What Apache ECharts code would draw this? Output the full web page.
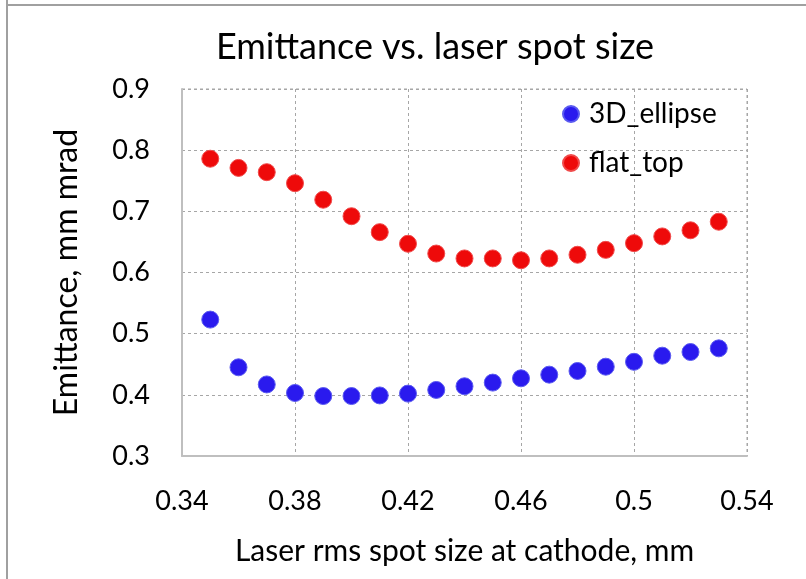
<!DOCTYPE html>
<html><head><meta charset="utf-8">
<script src="https://cdn.jsdelivr.net/npm/echarts@6/dist/echarts.min.js"></script>
<style>html,body{margin:0;padding:0;background:#fff}#c{width:806px;height:579px}</style>
</head><body><div id="c"></div>
<script>
const xValues = [0.35,0.36,0.37,0.38,0.39,0.40,0.41,0.42,0.43,0.44,0.45,0.46,0.47,0.48,0.49,0.50,0.51,0.52,0.53];
const ellipse3D = [0.523,0.445,0.417,0.403,0.398,0.398,0.399,0.402,0.408,0.414,0.420,0.427,0.433,0.439,0.446,0.454,0.464,0.470,0.476];
const flatTop = [0.786,0.771,0.764,0.746,0.719,0.692,0.666,0.647,0.631,0.623,0.623,0.620,0.623,0.629,0.637,0.648,0.659,0.669,0.683];
const seriesNames = ['3D_ellipse','flat_top'];
const FONT = 'Lato';
const chart = echarts.init(document.getElementById('c'));
const pair = (ys) => xValues.map((x,i)=>[x,ys[i]]);
chart.setOption({
  animation:false,
  textStyle:{fontFamily:FONT},
  title:{text:'Emittance vs. laser spot size',left:430,top:24,textAlign:'center',
    textStyle:{fontFamily:FONT,fontSize:36,fontWeight:'normal',color:'#000'}},
  legend:{orient:'vertical',left:557,top:95,itemGap:21,itemWidth:16,itemHeight:16,icon:'circle',
    textStyle:{fontFamily:FONT,fontSize:28,color:'#000',padding:[0,0,0,5]},data:seriesNames},
  grid:{left:182,right:59,top:89,bottom:123,containLabel:false},
  xAxis:{type:'value',min:0.34,max:0.54,interval:0.04,
    name:'Laser rms spot size at cathode, mm',nameLocation:'middle',nameGap:80,
    nameTextStyle:{fontFamily:FONT,fontSize:30,color:'#000'},
    axisLine:{show:true,lineStyle:{color:'#bfbfbf',width:2}},axisTick:{show:false},
    axisLabel:{fontFamily:FONT,fontSize:27,color:'#000',margin:32,formatter:v=>String(+v.toFixed(2))},
    splitLine:{show:true,lineStyle:{type:[3,3],color:'#a6a6a6',width:1}}},
  yAxis:{type:'value',min:0.3,max:0.9,interval:0.1,
    name:'Emittance, mm mrad',nameLocation:'middle',nameGap:99,
    nameTextStyle:{fontFamily:FONT,fontSize:32,color:'#000'},
    axisLine:{show:true,lineStyle:{color:'#bfbfbf',width:2}},axisTick:{show:false},
    axisLabel:{fontFamily:FONT,fontSize:27,color:'#000',margin:32,formatter:v=>String(+v.toFixed(1))},
    splitLine:{show:true,lineStyle:{type:[3,3],color:'#a6a6a6',width:1}}},
  graphic:[
    {type:'line',shape:{x1:7,y1:0,x2:7,y2:579},style:{stroke:'#a0a0a0',lineWidth:2}},
    {type:'line',shape:{x1:7,y1:5,x2:806,y2:5},style:{stroke:'#a0a0a0',lineWidth:2}},
    {type:'line',shape:{x1:747,y1:89,x2:747,y2:456},style:{stroke:'#a6a6a6',lineWidth:1,lineDash:[3,3]}},
    {type:'line',shape:{x1:182,y1:89,x2:747,y2:89},style:{stroke:'#a6a6a6',lineWidth:1,lineDash:[3,3]}}
  ],
  series:[
    {name:seriesNames[0],type:'scatter',data:pair(ellipse3D),symbolSize:17,
      itemStyle:{color:'#2a1aee',opacity:1,borderColor:'#5a5af0',borderWidth:1}},
    {name:seriesNames[1],type:'scatter',data:pair(flatTop),symbolSize:17,
      itemStyle:{color:'#ee0a0a',opacity:1,borderColor:'#f04a4a',borderWidth:1}}
  ]
});
</script></body></html>
